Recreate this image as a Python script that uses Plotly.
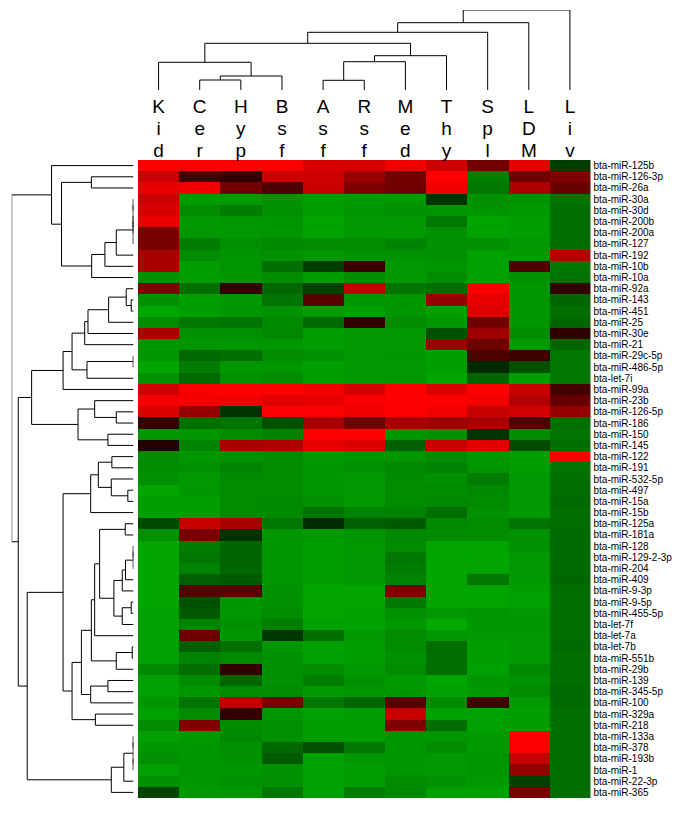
import plotly.graph_objects as go

# ---------------- data ----------------
TISSUES = ["Kid", "Cer", "Hyp", "Bsf", "Asf", "Rsf", "Med", "Thy", "Spl", "LDM", "Liv"]

MIRNAS = [
    "bta-miR-125b", "bta-miR-126-3p", "bta-miR-26a", "bta-miR-30a", "bta-miR-30d",
    "bta-miR-200b", "bta-miR-200a", "bta-miR-127", "bta-miR-192", "bta-miR-10b",
    "bta-miR-10a", "bta-miR-92a", "bta-miR-143", "bta-miR-451", "bta-miR-25",
    "bta-miR-30e", "bta-miR-21", "bta-miR-29c-5p", "bta-miR-486-5p", "bta-let-7i",
    "bta-miR-99a", "bta-miR-23b", "bta-miR-126-5p", "bta-miR-186", "bta-miR-150",
    "bta-miR-145", "bta-miR-122", "bta-miR-191", "bta-miR-532-5p", "bta-miR-497",
    "bta-miR-15a", "bta-miR-15b", "bta-miR-125a", "bta-miR-181a", "bta-miR-128",
    "bta-miR-129-2-3p", "bta-miR-204", "bta-miR-409", "bta-miR-9-3p", "bta-miR-9-5p",
    "bta-miR-455-5p", "bta-let-7f", "bta-let-7a", "bta-let-7b", "bta-miR-551b",
    "bta-miR-29b", "bta-miR-139", "bta-miR-345-5p", "bta-miR-100", "bta-miR-329a",
    "bta-miR-218", "bta-miR-133a", "bta-miR-378", "bta-miR-193b", "bta-miR-1",
    "bta-miR-22-3p", "bta-miR-365",
]

# relative expression (green = low, black = mid, red = high); one list per miRNA, tissues in order
EXPR = [
    [1.0, 1.0, 1.0, 1.0, 0.85, 0.85, 0.95, 0.8, 0.45, 0.9, -0.35],
    [0.8, 0.25, 0.2, 0.8, 0.8, 0.6, 0.45, 1.0, -0.75, 0.43, 0.5],
    [0.9, 0.95, 0.45, 0.3, 0.78, 0.5, 0.45, 0.95, -0.72, 0.68, 0.42],
    [0.8, -0.9, -0.9, -0.87, -0.93, -0.9, -0.9, -0.3, -0.85, -0.85, -0.68],
    [0.85, -0.82, -0.74, -0.85, -0.93, -0.88, -0.85, -0.87, -0.87, -0.9, -0.65],
    [0.9, -0.9, -0.88, -0.87, -0.97, -0.9, -0.9, -0.7, -0.97, -0.93, -0.65],
    [0.47, -0.9, -0.9, -0.88, -0.95, -0.9, -0.9, -0.85, -0.95, -0.93, -0.65],
    [0.47, -0.73, -0.85, -0.8, -0.82, -0.82, -0.77, -0.85, -0.85, -0.9, -0.65],
    [0.65, -0.82, -0.87, -0.85, -0.9, -0.85, -0.85, -0.85, -0.94, -0.9, 0.7],
    [0.65, -0.93, -0.87, -0.65, -0.35, 0.22, -0.9, -0.88, -0.94, 0.3, -0.7],
    [-0.85, -0.93, -0.88, -0.82, -0.93, -0.82, -0.9, -0.82, -0.94, -0.85, -0.68],
    [0.5, -0.65, 0.2, -0.6, -0.38, 0.78, -0.68, -0.65, 1.0, -0.88, 0.2],
    [-0.85, -0.93, -0.88, -0.68, 0.35, -0.88, -0.88, 0.58, 0.9, -0.88, -0.6],
    [-0.97, -0.93, -0.88, -0.85, -0.93, -0.93, -0.88, -0.93, 0.87, -0.88, -0.65],
    [-0.82, -0.7, -0.68, -0.8, -0.62, 0.2, -0.82, -0.88, 0.43, -0.88, -0.6],
    [0.65, -0.85, -0.85, -0.8, -0.93, -0.9, -0.9, -0.47, 0.62, -0.82, 0.18],
    [-0.88, -0.88, -0.88, -0.88, -0.93, -0.9, -0.9, 0.62, 0.43, -0.9, -0.6],
    [-0.88, -0.62, -0.65, -0.82, -0.85, -0.9, -0.88, -0.93, 0.3, 0.24, -0.7],
    [-0.97, -0.73, -0.88, -0.88, -0.93, -0.9, -0.9, -0.93, -0.25, -0.47, -0.7],
    [-0.85, -0.62, -0.85, -0.82, -0.93, -0.9, -0.88, -0.97, -0.6, -0.93, -0.7],
    [0.82, 0.98, 1.0, 1.0, 0.95, 0.85, 1.0, 0.87, 1.0, 0.78, 0.27],
    [0.96, 0.96, 0.94, 0.88, 0.9, 0.98, 1.0, 1.0, 0.96, 0.7, 0.4],
    [0.86, 0.58, -0.3, 0.98, 1.0, 0.95, 1.0, 0.96, 0.78, 0.82, 0.58],
    [0.2, -0.65, -0.68, -0.47, 0.66, 0.43, 0.66, 0.62, 0.66, 0.3, -0.65],
    [-0.88, -0.88, -0.82, -0.77, 1.0, 1.0, -0.88, -0.85, -0.3, -0.82, -0.68],
    [0.15, -0.77, 0.66, 0.68, 0.9, 0.86, -0.56, 0.78, 0.88, -0.44, -0.65],
    [-0.82, -0.88, -0.85, -0.82, -0.9, -0.88, -0.88, -0.82, -0.88, -0.93, 1.0],
    [-0.82, -0.85, -0.77, -0.82, -0.88, -0.85, -0.8, -0.77, -0.88, -0.93, -0.68],
    [-0.85, -0.9, -0.82, -0.82, -0.88, -0.9, -0.82, -0.85, -0.73, -0.9, -0.65],
    [-0.97, -0.88, -0.82, -0.82, -0.88, -0.9, -0.82, -0.82, -0.8, -0.9, -0.64],
    [-0.93, -0.93, -0.82, -0.8, -0.85, -0.9, -0.82, -0.8, -0.82, -0.9, -0.62],
    [-0.93, -0.93, -0.82, -0.8, -0.68, -0.77, -0.77, -0.65, -0.85, -0.9, -0.65],
    [-0.42, 0.78, 0.66, -0.7, -0.25, -0.56, -0.53, -0.8, -0.82, -0.68, -0.65],
    [-0.85, 0.47, -0.3, -0.88, -0.9, -0.88, -0.8, -0.82, -0.82, -0.85, -0.62],
    [-0.97, -0.73, -0.6, -0.88, -0.93, -0.9, -0.82, -0.97, -0.97, -0.85, -0.62],
    [-0.97, -0.7, -0.6, -0.88, -0.93, -0.9, -0.7, -0.97, -0.97, -0.9, -0.62],
    [-0.97, -0.77, -0.6, -0.88, -0.93, -0.9, -0.73, -0.97, -0.97, -0.9, -0.62],
    [-0.97, -0.56, -0.53, -0.88, -0.93, -0.9, -0.77, -0.97, -0.7, -0.9, -0.6],
    [-0.97, 0.33, 0.33, -0.85, -0.97, -0.97, 0.47, -0.97, -0.97, -0.94, -0.65],
    [-0.97, -0.47, -0.88, -0.85, -0.97, -0.97, -0.7, -0.97, -0.97, -0.94, -0.65],
    [-0.94, -0.53, -0.88, -0.82, -0.97, -0.95, -0.85, -0.9, -0.88, -0.9, -0.65],
    [-0.94, -0.77, -0.85, -0.74, -0.94, -0.95, -0.88, -1.0, -0.88, -0.88, -0.65],
    [-0.94, 0.43, -0.88, -0.32, -0.65, -0.9, -0.82, -0.88, -0.9, -0.9, -0.65],
    [-0.94, -0.56, -0.65, -0.88, -0.94, -0.93, -0.82, -0.65, -0.93, -0.9, -0.62],
    [-0.94, -0.77, -0.8, -0.85, -0.94, -0.93, -0.85, -0.65, -0.93, -0.9, -0.65],
    [-0.8, -0.65, 0.2, -0.85, -0.82, -0.9, -0.82, -0.65, -0.94, -0.8, -0.65],
    [-0.94, -0.82, -0.6, -0.85, -0.74, -0.85, -0.9, -0.97, -0.88, -0.85, -0.65],
    [-0.94, -0.88, -0.82, -0.82, -0.9, -0.88, -0.88, -0.94, -0.9, -0.82, -0.62],
    [-0.88, -0.68, 0.75, 0.47, -0.7, -0.6, 0.35, -0.82, 0.25, -0.9, -0.62],
    [-0.94, -0.82, 0.2, -0.88, -0.94, -0.93, 0.78, -0.94, -0.94, -0.93, -0.65],
    [-0.82, 0.5, -0.82, -0.85, -0.93, -0.93, 0.5, -0.65, -0.94, -0.93, -0.65],
    [-0.94, -0.9, -0.8, -0.85, -0.93, -0.93, -0.88, -0.88, -0.9, 1.0, -0.65],
    [-0.88, -0.88, -0.85, -0.62, -0.47, -0.7, -0.88, -0.82, -0.9, 1.0, -0.65],
    [-0.85, -0.88, -0.85, -0.53, -0.94, -0.88, -0.88, -0.9, -0.88, 0.78, -0.65],
    [-0.94, -0.88, -0.88, -0.85, -0.94, -0.93, -0.88, -0.9, -0.88, 0.58, -0.65],
    [-0.85, -0.88, -0.85, -0.85, -0.94, -0.93, -0.82, -0.85, -0.9, -0.38, -0.65],
    [-0.41, -0.9, -0.88, -0.7, -0.94, -0.74, -0.8, -0.94, -0.94, 0.47, -0.65],
]

# Column clustering tree: nodes are [left, right, merge distance]; leaves = tissue index
_c_chb = [[1, 2, 10], 3, 14]
_c_kid = [0, _c_chb, 27.7]
_c_arm = [[[4, 5, 9.7], 6, 28.3], 7, 34.3]
_c_big = [_c_kid, _c_arm, 46.7]
COL_TREE = [[[_c_big, 8, 57.7], 9, 67.3], 10, 80]

# Row clustering tree: leaves = miRNA index
_t48 = [[[3, 4, 0.3], [5, 6, 0.3], 0.3], 7, 0.3]
_t11 = [[[_t48, 8, 17.3], 9, 28.7], 10, 42]
_top = [0, [[1, 2, 42.3], _t11, 72.3], 82.3]

_m17 = [[[[11, [12, 13, 2.3], 7.3], 14, 25], 15, 45.7], 16, 49]
_m20 = [[17, 18, 0.3], 19, 46.7]
_m21 = [[_m17, _m20, 61.7], 20, 70.7]
_m26 = [[21, [22, 23, 17.3], 39], [24, 25, 25.7], 55.7]
_mid = [_m21, _m26, 102.3]

_b32 = [[[26, 27, 21.7], [28, [29, 30, 5.7], 22.3], 35.3], 31, 43]
_b39 = [[[[34, 35, 0.3], 36, 0.3], 37, 8], 38, 11.3]
_b42 = [[39, 40, 2.3], 41, 11.3]
_b43 = [[[32, 33, 8.3], [_b39, _b42, 19.7], 34], 42, 39]
_b46 = [[_b43, [[43, 44, 1.3], 45, 17.3], 42.3], [[46, 47, 25.7], 48, 43], 52.3]
_b51 = [_b46, [49, 50, 38.3], 61.7]
_b57 = [[[[51, 52, 0.3], [53, 54, 0.3], 0.3], 55, 9.7], 56, 22.3]
_bot = [[_b32, _b51, 70.7], _b57, 106.7]

ROW_TREE = [_top, [_mid, _bot, 115.7], 122.3]


# ---------------- helpers ----------------
def dendro_segments(tree):
    """Polylines (position, distance) for a nested [left, right, height] tree."""
    lines = []

    def walk(node):
        if isinstance(node, int):
            return float(node), 0.0
        lp, lh = walk(node[0])
        rp, rh = walk(node[1])
        h = node[2]
        lines.append([(lp, lh), (lp, h), (rp, h), (rp, rh)])
        return (lp + rp) / 2.0, h

    walk(tree)
    return lines


W, H = 685, 816
OFF = 8  # the page body adds an 8px margin; layout positions are given in window pixels
HM_L, HM_R, HM_T, HM_B = 138 - OFF, 590.5 - OFF, 160 - OFF, 798 - OFF
ROW_DEN_L = 11.7 - OFF  # where the root line sits
ROW_DEN_R = 133.5 - OFF
ROOT_H = 122.3
COL_LEAF_Y = 90 - OFF

fig = go.Figure()

fig.add_trace(go.Heatmap(
    z=EXPR, x=list(range(len(TISSUES))), y=list(range(len(MIRNAS))),
    zmin=-1, zmax=1,
    colorscale=[[0, "rgb(0,170,0)"], [0.5, "rgb(0,0,0)"], [1, "rgb(255,0,0)"]],
    showscale=False, xaxis="x", yaxis="y", hoverinfo="skip",
))

# row dendrogram (distance on x2, row position on y)
rx, ry = [], []
for seg in dendro_segments(ROW_TREE):
    for p, h in seg:
        rx.append(h)
        ry.append(p)
    rx.append(None)
    ry.append(None)
fig.add_trace(go.Scatter(x=rx, y=ry, mode="lines", line=dict(color="black", width=1),
                         xaxis="x2", yaxis="y", hoverinfo="skip", showlegend=False,
                         cliponaxis=False))

# column dendrogram (column position on x, distance on y3)
cx, cy = [], []
for seg in dendro_segments(COL_TREE):
    for p, h in seg:
        cx.append(p)
        cy.append(h)
    cx.append(None)
    cy.append(None)
fig.add_trace(go.Scatter(x=cx, y=cy, mode="lines", line=dict(color="black", width=1),
                         xaxis="x", yaxis="y3", hoverinfo="skip", showlegend=False,
                         cliponaxis=False))

# column labels as vertically stacked letters (on the y3 axis, below leaves)
LETTER_Y = [-18, -40, -62]
lx, ly, lt = [], [], []
for j, name in enumerate(TISSUES):
    for k, ch in enumerate(name):
        lx.append(j)
        ly.append(LETTER_Y[k])
        lt.append(ch)
fig.add_trace(go.Scatter(x=lx, y=ly, text=lt, mode="text", textposition="middle center",
                         textfont=dict(family="Liberation Sans, Arial", size=19, color="black"),
                         xaxis="x", yaxis="y3", hoverinfo="skip", showlegend=False,
                         cliponaxis=False))

hidden = dict(showgrid=False, zeroline=False, showticklabels=False, ticks="", showline=False)

fig.update_layout(
    width=W, height=H, autosize=False,
    margin=dict(l=0, r=0, t=0, b=0, pad=0),
    paper_bgcolor="white", plot_bgcolor="white",
    showlegend=False,
    xaxis=dict(domain=[HM_L / W, HM_R / W], range=[-0.5, len(TISSUES) - 0.5],
               anchor="y", **hidden),
    yaxis=dict(domain=[1 - HM_B / H, 1 - HM_T / H], range=[len(MIRNAS) - 0.5, -0.5],
               anchor="x", side="right", tickmode="array",
               tickvals=list(range(len(MIRNAS))), ticktext=MIRNAS,
               tickfont=dict(family="Liberation Sans, Arial", size=10, color="black"),
               ticks="", ticklabelstandoff=2,
               showgrid=False, zeroline=False, showline=False),
    xaxis2=dict(domain=[ROW_DEN_L / W, ROW_DEN_R / W], range=[ROOT_H, 0], anchor="y", **hidden),
    yaxis3=dict(domain=[1 - HM_T / H, 1 - (COL_LEAF_Y - 80) / H],
                range=[COL_LEAF_Y - HM_T, 80], anchor="x", **hidden),
)

fig.write_html("out.html")
